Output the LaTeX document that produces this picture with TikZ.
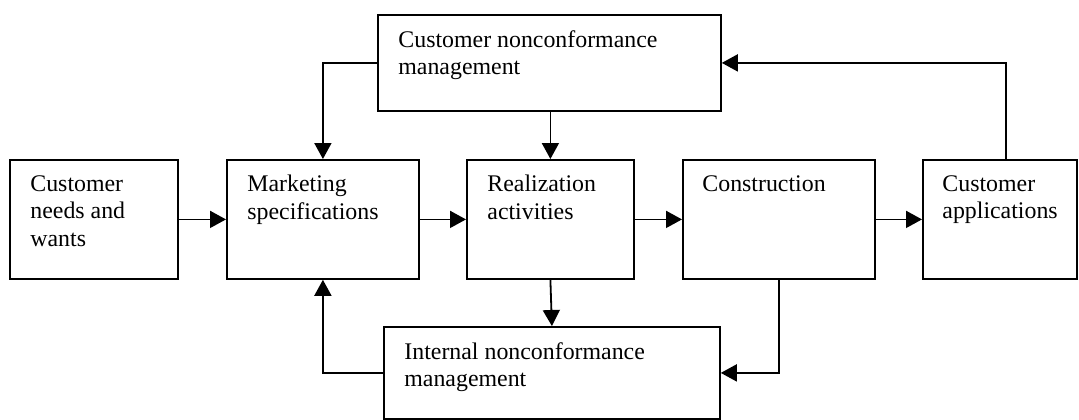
\documentclass[tikz,border=0pt]{standalone}
\usepackage{fontspec}
\setmainfont{Liberation Serif}
\usetikzlibrary{arrows.meta,calc}

\begin{document}
\begin{tikzpicture}[
    x=0.5pt, y=-0.5pt,
    box/.style={draw, line width=0.9pt, rectangle, inner sep=0pt, anchor=north west},
    txt/.style={anchor=north west, inner sep=0pt, align=left,
                font=\fontsize{11.93pt}{13.75pt}\selectfont},
    flow/.style={line width=0.9pt, -{Triangle[length=8pt,width=8.5pt]}}
  ]
  \useasboundingbox (0,0) rectangle (1079,419);

  % process boxes (top-left corner, size in px)
  \node[box, minimum width=343*0.5pt, minimum height=96*0.5pt]  (cnm)   at (377,14)  {};
  \node[box, minimum width=168*0.5pt, minimum height=119*0.5pt] (needs) at (9,159)   {};
  \node[box, minimum width=192*0.5pt, minimum height=119*0.5pt] (mkt)   at (226,159) {};
  \node[box, minimum width=167*0.5pt, minimum height=119*0.5pt] (real)  at (466,159) {};
  \node[box, minimum width=192*0.5pt, minimum height=119*0.5pt] (cons)  at (682,159) {};
  \node[box, minimum width=154*0.5pt, minimum height=119*0.5pt] (app)   at (922,159) {};
  \node[box, minimum width=336*0.5pt, minimum height=92*0.5pt]  (inm)   at (383,326) {};

  % box texts, set from the upper left corner
  \node[txt] (cnmT)   at ($(cnm.north west)+(21,16)$)   {Customer nonconformance\\management};
  \node[txt] (needsT) at ($(needs.north west)+(21,16)$) {Customer\\needs and\\wants};
  \node[txt] (mktT)   at ($(mkt.north west)+(21,16)$)   {Marketing\\specifications};
  \node[txt] (realT)  at ($(real.north west)+(21,16)$)  {Realization\\activities};
  \node[txt] (consT)  at ($(cons.north west)+(20,16)$)  {Construction};
  \node[txt] (appT)   at ($(app.north west)+(20,16)$)   {Customer\\applications};
  \node[txt] (inmT)   at ($(inm.north west)+(21,16)$)   {Internal nonconformance\\management};

  % main chain
  \draw[flow] (needs.east) -- (mkt.west);
  \draw[flow] (mkt.east) -- (real.west);
  \draw[flow] (real.east) -- (cons.west);
  \draw[flow] (cons.east) -- (app.west);

  % customer feedback loop
  \coordinate (appUp) at ($(app.north west)+(84,0)$);
  \draw[flow] (appUp) |- (cnm.east);
  \draw[flow] (cnm.west) -| (mkt.north);
  \draw[flow] (cnm.south -| real.north) -- (real.north);

  % internal feedback loop
  \draw[flow] (real.south) -- (inm.north);
  \draw[flow] (cons.south) |- (inm.east);
  \draw[flow] (inm.west) -| (mkt.south);
\end{tikzpicture}
\end{document}
